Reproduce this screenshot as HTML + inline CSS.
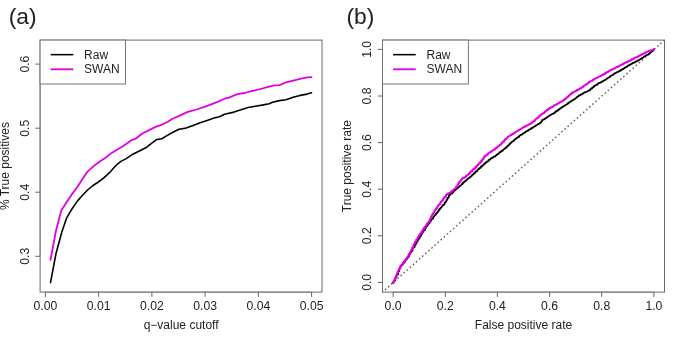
<!DOCTYPE html>
<html><head><meta charset="utf-8"><style>
html,body{margin:0;padding:0;background:#fff;width:685px;height:342px;overflow:hidden}
svg{display:block}
text{font-family:"Liberation Sans", sans-serif;fill:#222}
svg{will-change:transform}
</style></head><body>
<svg width="685" height="342" viewBox="0 0 685 342">
<rect width="685" height="342" fill="#fff"/>

<rect x="40.1" y="40.1" width="281.9" height="252.0" fill="none" stroke="#6a6a6a" stroke-width="1"/>
<line x1="45.4" y1="292.1" x2="311.6" y2="292.1" stroke="#6a6a6a" stroke-width="1" stroke-opacity="0.6"/>
<line x1="40.1" y1="256.3" x2="40.1" y2="64.1" stroke="#6a6a6a" stroke-width="1" stroke-opacity="0.6"/>
<line x1="45.4" y1="292.1" x2="45.4" y2="296.9" stroke="#666" stroke-width="1"/>
<text x="45.4" y="310.2" font-size="12.2" text-anchor="middle">0.00</text>
<line x1="98.6" y1="292.1" x2="98.6" y2="296.9" stroke="#666" stroke-width="1"/>
<text x="98.6" y="310.2" font-size="12.2" text-anchor="middle">0.01</text>
<line x1="151.9" y1="292.1" x2="151.9" y2="296.9" stroke="#666" stroke-width="1"/>
<text x="151.9" y="310.2" font-size="12.2" text-anchor="middle">0.02</text>
<line x1="205.1" y1="292.1" x2="205.1" y2="296.9" stroke="#666" stroke-width="1"/>
<text x="205.1" y="310.2" font-size="12.2" text-anchor="middle">0.03</text>
<line x1="258.4" y1="292.1" x2="258.4" y2="296.9" stroke="#666" stroke-width="1"/>
<text x="258.4" y="310.2" font-size="12.2" text-anchor="middle">0.04</text>
<line x1="311.6" y1="292.1" x2="311.6" y2="296.9" stroke="#666" stroke-width="1"/>
<text x="311.6" y="310.2" font-size="12.2" text-anchor="middle">0.05</text>
<line x1="35.3" y1="256.3" x2="40.1" y2="256.3" stroke="#666" stroke-width="1"/>
<text transform="translate(28.6,256.3) rotate(-90)" font-size="12.2" text-anchor="middle">0.3</text>
<line x1="35.3" y1="192.2" x2="40.1" y2="192.2" stroke="#666" stroke-width="1"/>
<text transform="translate(28.6,192.2) rotate(-90)" font-size="12.2" text-anchor="middle">0.4</text>
<line x1="35.3" y1="128.2" x2="40.1" y2="128.2" stroke="#666" stroke-width="1"/>
<text transform="translate(28.6,128.2) rotate(-90)" font-size="12.2" text-anchor="middle">0.5</text>
<line x1="35.3" y1="64.1" x2="40.1" y2="64.1" stroke="#666" stroke-width="1"/>
<text transform="translate(28.6,64.1) rotate(-90)" font-size="12.2" text-anchor="middle">0.6</text>
<text x="181.1" y="329.0" font-size="12.0" text-anchor="middle">q−value cutoff</text>
<text transform="translate(9.1,166.1) rotate(-90)" font-size="12.0" text-anchor="middle">% True positives</text>
<polyline points="50.5,282.6 55.9,254.0 61.6,232.8 66.7,217.8 71.4,209.8 77.5,200.9 82.8,195.0 88.1,189.5 93.0,185.5 97.7,182.5 103.5,178.2 108.2,173.9 110.8,171.2 114.3,167.3 117.8,163.8 121.3,161.1 125.8,158.9 132.8,154.2 139.8,150.7 146.8,147.2 152.1,142.8 156.5,139.6 161.8,138.8 166.1,136.1 172.0,132.7 179.0,129.2 186.0,128.1 193.1,125.4 200.1,122.8 207.1,120.5 214.1,118.1 219.4,116.7 224.6,114.2 234.0,112.1 241.0,109.8 248.1,107.5 255.1,106.3 262.1,105.1 269.1,103.7 272.6,102.3 279.3,100.6 286.0,99.7 293.1,97.3 300.1,95.4 307.1,94.1 311.5,92.7" fill="none" stroke="#000" stroke-width="1.6" stroke-linejoin="round" stroke-linecap="round"/>
<polyline points="50.5,260.0 55.9,231.0 61.3,210.6 66.7,202.0 71.1,195.4 77.5,186.8 82.5,179.0 87.2,171.9 95.1,164.9 100.5,161.0 105.6,157.8 110.0,154.1 117.0,149.7 124.0,145.4 131.0,140.4 136.3,138.3 141.6,134.0 148.6,130.4 155.6,126.9 162.6,124.3 167.9,121.7 172.0,119.0 180.8,115.1 187.8,111.9 196.6,109.5 203.6,107.2 210.6,104.6 217.6,101.9 224.6,98.7 228.8,97.7 237.5,94.2 244.6,93.0 251.6,91.2 260.4,89.0 269.1,86.7 274.4,85.4 279.6,85.1 286.0,82.3 293.1,80.6 300.1,78.8 307.1,77.4 311.5,77.1" fill="none" stroke="#e000e0" stroke-width="1.8" stroke-linejoin="round" stroke-linecap="round"/>
<rect x="40.1" y="40.1" width="85.4" height="43.9" fill="#fff" stroke="#777" stroke-width="1"/>
<line x1="50.7" y1="54.65" x2="73.3" y2="54.65" stroke="#000" stroke-width="1.55"/>
<line x1="50.7" y1="69.3" x2="73.3" y2="69.3" stroke="#e000e0" stroke-width="1.85"/>
<text x="84.1" y="58.8" font-size="12.0">Raw</text>
<text x="84.1" y="73.3" font-size="12.0">SWAN</text>
<text x="8.7" y="24.45" font-size="22.8">(a)</text>
<rect x="382.5" y="40.1" width="282.0" height="252.0" fill="none" stroke="#6a6a6a" stroke-width="1"/>
<line x1="393.1" y1="292.1" x2="653.9" y2="292.1" stroke="#6a6a6a" stroke-width="1" stroke-opacity="0.6"/>
<line x1="382.5" y1="282.4" x2="382.5" y2="49.4" stroke="#6a6a6a" stroke-width="1" stroke-opacity="0.6"/>
<line x1="393.1" y1="292.1" x2="393.1" y2="296.9" stroke="#666" stroke-width="1"/>
<text x="393.1" y="310.2" font-size="12.2" text-anchor="middle">0.0</text>
<line x1="445.3" y1="292.1" x2="445.3" y2="296.9" stroke="#666" stroke-width="1"/>
<text x="445.3" y="310.2" font-size="12.2" text-anchor="middle">0.2</text>
<line x1="497.4" y1="292.1" x2="497.4" y2="296.9" stroke="#666" stroke-width="1"/>
<text x="497.4" y="310.2" font-size="12.2" text-anchor="middle">0.4</text>
<line x1="549.6" y1="292.1" x2="549.6" y2="296.9" stroke="#666" stroke-width="1"/>
<text x="549.6" y="310.2" font-size="12.2" text-anchor="middle">0.6</text>
<line x1="601.7" y1="292.1" x2="601.7" y2="296.9" stroke="#666" stroke-width="1"/>
<text x="601.7" y="310.2" font-size="12.2" text-anchor="middle">0.8</text>
<line x1="653.9" y1="292.1" x2="653.9" y2="296.9" stroke="#666" stroke-width="1"/>
<text x="653.9" y="310.2" font-size="12.2" text-anchor="middle">1.0</text>
<line x1="377.7" y1="282.4" x2="382.5" y2="282.4" stroke="#666" stroke-width="1"/>
<text transform="translate(371.0,282.4) rotate(-90)" font-size="12.2" text-anchor="middle">0.0</text>
<line x1="377.7" y1="235.8" x2="382.5" y2="235.8" stroke="#666" stroke-width="1"/>
<text transform="translate(371.0,235.8) rotate(-90)" font-size="12.2" text-anchor="middle">0.2</text>
<line x1="377.7" y1="189.2" x2="382.5" y2="189.2" stroke="#666" stroke-width="1"/>
<text transform="translate(371.0,189.2) rotate(-90)" font-size="12.2" text-anchor="middle">0.4</text>
<line x1="377.7" y1="142.6" x2="382.5" y2="142.6" stroke="#666" stroke-width="1"/>
<text transform="translate(371.0,142.6) rotate(-90)" font-size="12.2" text-anchor="middle">0.6</text>
<line x1="377.7" y1="96.0" x2="382.5" y2="96.0" stroke="#666" stroke-width="1"/>
<text transform="translate(371.0,96.0) rotate(-90)" font-size="12.2" text-anchor="middle">0.8</text>
<line x1="377.7" y1="49.4" x2="382.5" y2="49.4" stroke="#666" stroke-width="1"/>
<text transform="translate(371.0,49.4) rotate(-90)" font-size="12.2" text-anchor="middle">1.0</text>
<text x="523.5" y="329.0" font-size="12.0" text-anchor="middle">False positive rate</text>
<text transform="translate(351.4,166.1) rotate(-90)" font-size="12.0" text-anchor="middle">True positive rate</text>
<line x1="382.5" y1="292.1" x2="664.5" y2="40.1" stroke="#666" stroke-width="1.4" stroke-dasharray="1.7 2.45" stroke-dashoffset="0.84"/>
<polyline points="392.5,283.0 393.3,283.0 393.3,281.7 394.2,281.7 394.2,280.2 395.3,280.2 395.3,277.8 395.9,277.8 395.9,276.6 396.7,276.6 396.7,274.4 398.1,274.4 398.1,271.3 399.4,271.3 399.4,268.5 400.5,268.5 400.5,266.1 401.6,266.1 401.6,265.0 402.6,265.0 402.6,263.6 403.7,263.6 403.7,262.0 405.0,262.0 405.0,260.6 405.8,260.6 405.8,259.2 407.1,259.2 407.1,257.6 408.3,257.6 408.3,256.1 409.4,256.1 409.4,254.1 410.3,254.1 410.3,252.5 411.3,252.5 411.3,251.0 412.6,251.0 412.6,248.5 413.3,248.5 413.3,247.3 414.7,247.3 414.7,245.0 415.8,245.0 415.8,243.0 416.8,243.0 416.8,241.3 417.7,241.3 417.7,239.8 418.7,239.8 418.7,238.0 419.9,238.0 419.9,236.0 421.2,236.0 421.2,234.0 422.3,234.0 422.3,231.9 423.6,231.9 423.6,230.2 424.9,230.2 424.9,228.0 426.1,228.0 426.1,226.2 427.4,226.2 427.4,224.7 428.2,224.7 428.2,223.4 429.5,223.4 429.5,222.0 430.1,222.0 430.1,221.1 431.1,221.1 431.1,219.6 431.9,219.6 431.9,218.7 433.2,218.7 433.2,216.7 434.3,216.7 434.3,215.3 435.5,215.3 435.5,213.8 436.8,213.8 436.8,212.5 437.8,212.5 437.8,211.2 438.6,211.2 438.6,209.9 439.7,209.9 439.7,208.5 440.5,208.5 440.5,207.7 441.6,207.7 441.6,206.3 442.2,206.3 442.2,205.7 443.0,205.7 443.0,204.7 444.4,204.7 444.4,202.9 445.3,202.9 445.3,201.7 446.4,201.7 446.4,199.7 447.5,199.7 447.5,197.8 448.8,197.8 448.8,195.4 449.8,195.4 449.8,194.6 450.6,194.6 450.6,193.8 452.0,193.8 452.0,192.7 453.0,192.7 453.0,191.6 453.9,191.6 453.9,190.9 454.5,190.9 454.5,190.3 455.6,190.3 455.6,189.0 456.7,189.0 456.7,188.2 457.9,188.2 457.9,187.3 459.1,187.3 459.1,186.5 459.7,186.5 459.7,185.7 460.8,185.7 460.8,185.0 461.6,185.0 461.6,184.1 462.7,184.1 462.7,182.9 463.6,182.9 463.6,182.1 464.5,182.1 464.5,181.4 465.3,181.4 465.3,180.6 466.5,180.6 466.5,179.5 467.6,179.5 467.6,178.8 468.4,178.8 468.4,178.0 469.7,178.0 469.7,177.0 470.4,177.0 470.4,176.5 471.6,176.5 471.6,175.3 472.4,175.3 472.4,174.5 473.7,174.5 473.7,173.3 475.0,173.3 475.0,172.0 475.9,172.0 475.9,171.4 477.2,171.4 477.2,170.1 478.0,170.1 478.0,169.3 479.0,169.3 479.0,168.3 480.2,168.3 480.2,167.4 481.0,167.4 481.0,166.4 482.2,166.4 482.2,165.4 483.5,165.4 483.5,164.2 484.2,164.2 484.2,163.6 485.4,163.6 485.4,162.6 486.3,162.6 486.3,162.0 487.2,162.0 487.2,161.2 488.6,161.2 488.6,159.9 489.2,159.9 489.2,159.6 490.5,159.6 490.5,158.5 491.4,158.5 491.4,157.9 492.8,157.9 492.8,157.0 493.9,157.0 493.9,156.6 495.1,156.6 495.1,156.0 495.9,156.0 495.9,155.3 496.7,155.3 496.7,154.5 497.8,154.5 497.8,153.7 499.0,153.7 499.0,152.5 500.3,152.5 500.3,151.6 501.7,151.6 501.7,150.7 503.0,150.7 503.0,149.6 503.6,149.6 503.6,149.2 504.3,149.2 504.3,148.5 505.5,148.5 505.5,147.6 506.4,147.6 506.4,147.0 507.5,147.0 507.5,145.8 508.3,145.8 508.3,145.1 509.3,145.1 509.3,144.1 510.2,144.1 510.2,143.0 511.2,143.0 511.2,142.2 511.9,142.2 511.9,141.5 513.3,141.5 513.3,140.5 514.5,140.5 514.5,139.3 515.6,139.3 515.6,138.8 516.3,138.8 516.3,138.1 517.1,138.1 517.1,137.6 518.0,137.6 518.0,136.9 519.2,136.9 519.2,135.8 519.9,135.8 519.9,135.4 520.6,135.4 520.6,134.8 522.0,134.8 522.0,134.2 522.6,134.2 522.6,133.6 523.5,133.6 523.5,133.0 524.4,133.0 524.4,132.5 525.4,132.5 525.4,131.7 526.2,131.7 526.2,131.2 526.9,131.2 526.9,130.9 528.1,130.9 528.1,130.1 528.7,130.1 528.7,129.6 529.6,129.6 529.6,129.2 530.8,129.2 530.8,128.4 532.1,128.4 532.1,127.7 533.0,127.7 533.0,127.0 534.0,127.0 534.0,126.5 535.0,126.5 535.0,126.0 535.9,126.0 535.9,125.2 537.0,125.2 537.0,124.7 537.6,124.7 537.6,124.2 538.6,124.2 538.6,123.8 539.9,123.8 539.9,122.7 541.2,122.7 541.2,121.2 542.0,121.2 542.0,120.1 542.7,120.1 542.7,119.8 543.9,119.8 543.9,119.1 545.1,119.1 545.1,118.2 546.3,118.2 546.3,117.5 547.0,117.5 547.0,117.1 547.6,117.1 547.6,116.5 548.8,116.5 548.8,115.7 549.5,115.7 549.5,115.3 550.8,115.3 550.8,114.5 551.4,114.5 551.4,114.3 552.1,114.3 552.1,113.9 553.2,113.9 553.2,113.2 554.6,113.2 554.6,112.3 555.8,112.3 555.8,111.3 557.0,111.3 557.0,110.6 558.2,110.6 558.2,109.6 559.4,109.6 559.4,108.9 560.1,108.9 560.1,108.2 561.1,108.2 561.1,107.7 561.9,107.7 561.9,106.9 562.7,106.9 562.7,106.6 563.9,106.6 563.9,105.8 564.8,105.8 564.8,105.2 565.7,105.2 565.7,104.7 566.3,104.7 566.3,104.2 567.7,104.2 567.7,103.1 568.9,103.1 568.9,102.2 570.1,102.2 570.1,101.5 571.2,101.5 571.2,100.7 572.2,100.7 572.2,100.2 573.5,100.2 573.5,99.2 574.2,99.2 574.2,99.0 575.5,99.0 575.5,98.0 576.5,98.0 576.5,97.3 577.2,97.3 577.2,96.6 578.0,96.6 578.0,96.2 578.8,96.2 578.8,95.4 580.0,95.4 580.0,94.9 580.8,94.9 580.8,94.4 581.8,94.4 581.8,94.0 582.8,94.0 582.8,93.2 583.6,93.2 583.6,92.7 584.6,92.7 584.6,92.4 585.3,92.4 585.3,92.0 586.2,92.0 586.2,91.7 586.9,91.7 586.9,91.5 587.9,91.5 587.9,90.8 588.9,90.8 588.9,90.4 590.1,90.4 590.1,89.2 591.1,89.2 591.1,88.4 592.4,88.4 592.4,87.2 593.6,87.2 593.6,86.4 594.5,86.4 594.5,85.5 595.3,85.5 595.3,85.2 596.5,85.2 596.5,84.6 597.8,84.6 597.8,83.5 598.5,83.5 598.5,83.1 599.3,83.1 599.3,82.9 600.5,82.9 600.5,82.3 601.3,82.3 601.3,81.9 602.2,81.9 602.2,81.3 603.4,81.3 603.4,80.5 604.1,80.5 604.1,80.4 604.9,80.4 604.9,79.7 606.0,79.7 606.0,79.1 606.6,79.1 606.6,78.6 607.5,78.6 607.5,78.0 608.3,78.0 608.3,77.5 609.6,77.5 609.6,76.5 610.7,76.5 610.7,75.7 611.5,75.7 611.5,75.3 612.2,75.3 612.2,75.0 613.5,75.0 613.5,73.8 614.9,73.8 614.9,73.1 616.1,73.1 616.1,72.5 616.9,72.5 616.9,72.1 618.0,72.1 618.0,71.6 618.9,71.6 618.9,71.1 620.2,71.1 620.2,70.4 621.3,70.4 621.3,69.6 622.2,69.6 622.2,69.1 623.4,69.1 623.4,68.5 624.5,68.5 624.5,67.6 625.6,67.6 625.6,67.1 626.3,67.1 626.3,66.7 627.5,66.7 627.5,65.8 628.8,65.8 628.8,65.0 629.7,65.0 629.7,64.6 630.8,64.6 630.8,64.0 631.9,64.0 631.9,63.4 632.7,63.4 632.7,62.9 633.4,62.9 633.4,62.7 634.6,62.7 634.6,62.0 635.8,62.0 635.8,61.4 636.6,61.4 636.6,61.0 637.9,61.0 637.9,60.2 638.9,60.2 638.9,59.8 640.1,59.8 640.1,59.0 641.0,59.0 641.0,58.5 642.0,58.5 642.0,57.9 642.9,57.9 642.9,57.3 643.6,57.3 643.6,56.7 644.2,56.7 644.2,56.2 645.5,56.2 645.5,55.7 646.2,55.7 646.2,55.1 647.2,55.1 647.2,54.7 648.4,54.7 648.4,54.0 649.5,54.0 649.5,52.9 650.4,52.9 650.4,52.2 651.4,52.2 651.4,51.5 652.2,51.5 652.2,50.8 653.4,50.8 653.4,49.7 654.0,49.7 654.0,49.4" fill="none" stroke="#000" stroke-width="1.6" stroke-linejoin="round" stroke-linecap="round"/>
<polyline points="392.5,283.0 393.4,283.0 393.4,281.3 394.5,281.3 394.5,279.2 395.5,279.2 395.5,276.8 396.2,276.8 396.2,275.2 396.8,275.2 396.8,273.6 397.4,273.6 397.4,272.0 398.4,272.0 398.4,270.1 399.1,270.1 399.1,268.3 400.2,268.3 400.2,266.4 401.2,266.4 401.2,264.9 402.6,264.9 402.6,263.0 403.9,263.0 403.9,261.4 404.6,261.4 404.6,260.4 405.5,260.4 405.5,259.5 406.2,259.5 406.2,258.5 407.3,258.5 407.3,256.9 408.4,256.9 408.4,254.9 409.0,254.9 409.0,253.7 410.2,253.7 410.2,251.6 411.0,251.6 411.0,250.0 412.0,250.0 412.0,247.9 413.2,247.9 413.2,245.5 414.0,245.5 414.0,243.7 415.0,243.7 415.0,241.7 416.2,241.7 416.2,239.5 417.6,239.5 417.6,237.3 418.5,237.3 418.5,236.1 419.2,236.1 419.2,234.8 419.9,234.8 419.9,233.9 421.1,233.9 421.1,232.0 422.4,232.0 422.4,229.9 423.5,229.9 423.5,228.2 424.6,228.2 424.6,226.7 425.9,226.7 425.9,225.1 426.9,225.1 426.9,223.7 427.5,223.7 427.5,222.8 428.6,222.8 428.6,221.4 429.9,221.4 429.9,218.8 430.8,218.8 430.8,217.2 431.4,217.2 431.4,215.9 432.1,215.9 432.1,214.4 432.8,214.4 432.8,213.5 433.5,213.5 433.5,212.2 434.4,212.2 434.4,210.9 435.1,210.9 435.1,209.7 436.1,209.7 436.1,208.2 437.4,208.2 437.4,206.3 438.2,206.3 438.2,205.1 439.1,205.1 439.1,204.1 440.4,204.1 440.4,202.2 441.2,202.2 441.2,201.3 442.0,201.3 442.0,200.3 443.0,200.3 443.0,198.8 443.6,198.8 443.6,198.0 444.5,198.0 444.5,196.9 445.9,196.9 445.9,195.0 446.9,195.0 446.9,194.1 448.1,194.1 448.1,193.2 449.4,193.2 449.4,192.7 450.7,192.7 450.7,192.0 451.6,192.0 451.6,191.1 452.3,191.1 452.3,190.7 452.9,190.7 452.9,190.0 453.7,190.0 453.7,189.5 454.6,189.5 454.6,188.8 455.2,188.8 455.2,188.2 455.8,188.2 455.8,187.2 456.5,187.2 456.5,186.3 457.6,186.3 457.6,184.2 458.4,184.2 458.4,183.0 459.3,183.0 459.3,181.7 460.5,181.7 460.5,180.4 461.5,180.4 461.5,179.0 462.2,179.0 462.2,178.4 463.0,178.4 463.0,178.0 464.3,178.0 464.3,177.2 464.9,177.2 464.9,177.0 465.9,177.0 465.9,175.8 467.0,175.8 467.0,174.9 468.0,174.9 468.0,174.3 469.3,174.3 469.3,173.0 470.1,173.0 470.1,172.0 470.8,172.0 470.8,171.5 471.9,171.5 471.9,170.4 472.7,170.4 472.7,169.4 474.0,169.4 474.0,168.4 475.3,168.4 475.3,167.0 476.5,167.0 476.5,165.8 477.3,165.8 477.3,164.9 478.2,164.9 478.2,163.9 478.8,163.9 478.8,163.3 479.6,163.3 479.6,162.5 481.0,162.5 481.0,160.8 482.3,160.8 482.3,159.1 483.7,159.1 483.7,157.0 484.5,157.0 484.5,156.2 485.2,156.2 485.2,155.6 486.3,155.6 486.3,154.9 487.6,154.9 487.6,153.6 488.7,153.6 488.7,152.8 489.4,152.8 489.4,152.3 490.7,152.3 490.7,151.5 491.9,151.5 491.9,150.6 492.7,150.6 492.7,150.3 493.5,150.3 493.5,149.7 494.9,149.7 494.9,148.5 495.8,148.5 495.8,148.0 497.0,148.0 497.0,146.8 497.7,146.8 497.7,146.3 499.0,146.3 499.0,145.4 499.7,145.4 499.7,144.7 501.1,144.7 501.1,143.5 502.0,143.5 502.0,142.7 502.7,142.7 502.7,141.7 504.1,141.7 504.1,140.1 505.1,140.1 505.1,139.0 506.1,139.0 506.1,138.3 507.3,138.3 507.3,137.1 508.1,137.1 508.1,136.6 508.9,136.6 508.9,136.1 509.7,136.1 509.7,135.5 510.4,135.5 510.4,135.2 511.3,135.2 511.3,134.5 512.4,134.5 512.4,134.0 513.3,134.0 513.3,133.4 514.3,133.4 514.3,132.6 515.3,132.6 515.3,131.8 516.3,131.8 516.3,131.3 516.9,131.3 516.9,131.1 517.6,131.1 517.6,130.6 518.8,130.6 518.8,129.9 519.7,129.9 519.7,129.3 520.7,129.3 520.7,128.8 521.4,128.8 521.4,128.3 522.2,128.3 522.2,127.7 523.4,127.7 523.4,127.0 524.5,127.0 524.5,126.5 525.8,126.5 525.8,125.8 526.9,125.8 526.9,125.2 527.9,125.2 527.9,124.8 528.9,124.8 528.9,124.1 529.8,124.1 529.8,123.7 531.0,123.7 531.0,122.9 532.3,122.9 532.3,121.8 533.4,121.8 533.4,121.2 534.7,121.2 534.7,119.8 535.4,119.8 535.4,119.3 536.0,119.3 536.0,118.6 536.7,118.6 536.7,118.2 537.9,118.2 537.9,117.2 538.6,117.2 538.6,116.4 539.8,116.4 539.8,115.1 541.1,115.1 541.1,114.5 541.8,114.5 541.8,113.9 542.8,113.9 542.8,113.1 544.2,113.1 544.2,112.2 544.9,112.2 544.9,111.5 545.9,111.5 545.9,110.7 546.7,110.7 546.7,110.1 547.8,110.1 547.8,109.1 548.9,109.1 548.9,108.5 549.5,108.5 549.5,108.0 550.6,108.0 550.6,107.4 551.2,107.4 551.2,107.2 552.5,107.2 552.5,106.4 553.2,106.4 553.2,105.8 553.8,105.8 553.8,105.6 554.6,105.6 554.6,104.9 555.5,104.9 555.5,104.7 556.8,104.7 556.8,103.8 557.5,103.8 557.5,103.7 558.6,103.7 558.6,103.1 559.2,103.1 559.2,102.4 560.4,102.4 560.4,101.8 561.0,101.8 561.0,101.6 562.2,101.6 562.2,100.9 562.8,100.9 562.8,100.5 563.5,100.5 563.5,100.0 564.4,100.0 564.4,99.1 565.5,99.1 565.5,98.5 566.3,98.5 566.3,97.6 567.3,97.6 567.3,96.9 568.0,96.9 568.0,96.3 568.6,96.3 568.6,95.6 569.5,95.6 569.5,94.7 570.7,94.7 570.7,93.7 571.7,93.7 571.7,93.0 572.6,93.0 572.6,92.4 573.4,92.4 573.4,91.9 574.6,91.9 574.6,91.3 575.3,91.3 575.3,90.9 576.7,90.9 576.7,90.0 577.9,90.0 577.9,89.5 578.9,89.5 578.9,89.1 579.8,89.1 579.8,88.4 581.0,88.4 581.0,87.8 581.9,87.8 581.9,87.2 583.0,87.2 583.0,86.4 583.9,86.4 583.9,85.7 584.6,85.7 584.6,85.1 585.2,85.1 585.2,84.9 586.0,84.9 586.0,84.1 586.7,84.1 586.7,83.8 588.0,83.8 588.0,82.8 588.8,82.8 588.8,82.0 589.7,82.0 589.7,81.6 590.4,81.6 590.4,81.1 591.2,81.1 591.2,80.8 592.6,80.8 592.6,79.8 593.4,79.8 593.4,79.5 594.2,79.5 594.2,78.8 594.8,78.8 594.8,78.6 595.8,78.6 595.8,78.1 596.6,78.1 596.6,77.7 597.2,77.7 597.2,77.4 597.8,77.4 597.8,77.1 598.5,77.1 598.5,76.6 599.3,76.6 599.3,76.3 600.4,76.3 600.4,75.8 601.6,75.8 601.6,75.2 602.8,75.2 602.8,74.7 603.7,74.7 603.7,73.9 605.1,73.9 605.1,73.0 606.2,73.0 606.2,72.5 606.9,72.5 606.9,72.1 608.2,72.1 608.2,71.2 609.4,71.2 609.4,70.6 610.1,70.6 610.1,70.1 611.1,70.1 611.1,69.7 612.3,69.7 612.3,69.2 613.4,69.2 613.4,68.7 614.6,68.7 614.6,68.1 615.3,68.1 615.3,67.4 616.0,67.4 616.0,67.2 616.7,67.2 616.7,67.0 617.8,67.0 617.8,66.4 618.9,66.4 618.9,65.8 619.9,65.8 619.9,65.1 621.1,65.1 621.1,64.8 622.1,64.8 622.1,64.2 623.2,64.2 623.2,63.5 624.4,63.5 624.4,63.0 625.1,63.0 625.1,62.6 626.3,62.6 626.3,62.0 627.5,62.0 627.5,61.7 628.5,61.7 628.5,61.0 629.4,61.0 629.4,60.6 630.7,60.6 630.7,60.0 631.8,60.0 631.8,59.2 632.5,59.2 632.5,58.9 633.7,58.9 633.7,58.3 634.7,58.3 634.7,57.7 635.4,57.7 635.4,57.5 636.5,57.5 636.5,57.1 637.7,57.1 637.7,56.3 638.7,56.3 638.7,55.9 639.6,55.9 639.6,55.3 641.0,55.3 641.0,54.6 642.3,54.6 642.3,54.2 643.0,54.2 643.0,53.7 644.2,53.7 644.2,53.2 645.2,53.2 645.2,52.4 645.9,52.4 645.9,52.3 646.7,52.3 646.7,51.8 647.4,51.8 647.4,51.4 648.8,51.4 648.8,50.6 650.0,50.6 650.0,50.4 651.3,50.4 651.3,50.1 652.1,50.1 652.1,49.9 653.1,49.9 653.1,49.3 653.7,49.3 653.7,49.3 654.0,49.3 654.0,49.2" fill="none" stroke="#e000e0" stroke-width="1.8" stroke-linejoin="round" stroke-linecap="round"/>
<rect x="382.5" y="40.1" width="85.9" height="43.9" fill="#fff" stroke="#777" stroke-width="1"/>
<line x1="393.1" y1="54.65" x2="415.7" y2="54.65" stroke="#000" stroke-width="1.55"/>
<line x1="393.1" y1="69.3" x2="415.7" y2="69.3" stroke="#e000e0" stroke-width="1.85"/>
<text x="426.5" y="58.8" font-size="12.0">Raw</text>
<text x="426.5" y="73.3" font-size="12.0">SWAN</text>
<text x="346.5" y="24.45" font-size="22.8">(b)</text>
</svg>
</body></html>
